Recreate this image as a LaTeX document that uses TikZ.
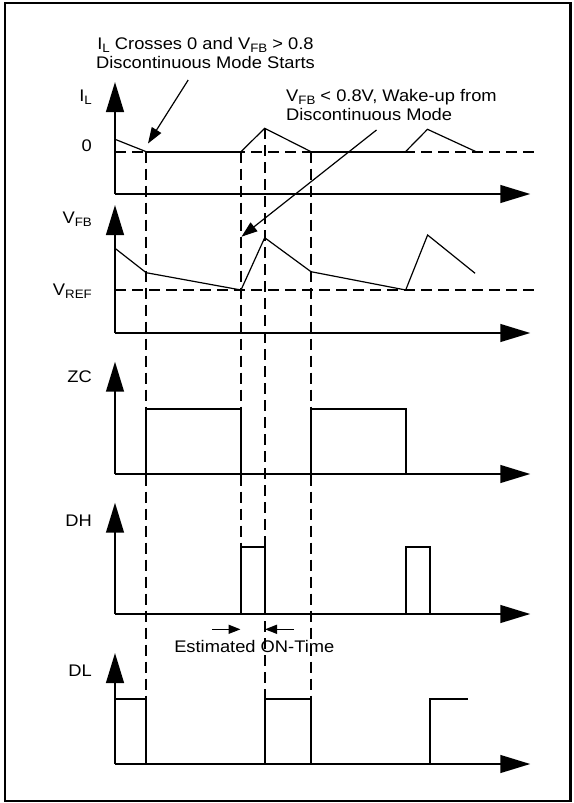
\documentclass[tikz,border=0pt]{standalone}
\usepackage{fontspec}
\setmainfont[FakeStretch=1.09]{Liberation Sans}
\usetikzlibrary{arrows.meta}
\newcommand{\sbx}[1]{\raisebox{-2.8pt}[\height][0pt]{\fontsize{12.2}{12.2}\selectfont #1}}
\begin{document}
\begin{tikzpicture}[x=1pt,y=-1pt,
  lbl/.style={font=\fontsize{16.8}{18.3}\selectfont, inner sep=0pt},
  axis/.style={line width=2.2pt, -{Triangle[length=30pt,width=17.7pt]}},
  guide/.style={line width=2pt, dash pattern=on 11pt off 6pt},
  wave/.style={line width=1.2pt, line join=miter},
  flat/.style={line width=2pt},
  pulse/.style={line width=2pt, line join=miter},
  note/.style={line width=1.2pt, -{Triangle[length=16pt,width=11pt]}},
  ontime/.style={line width=1.6pt, -{Triangle[length=12pt,width=9pt]}},
  frame/.style={line width=2.2pt}
]
\useasboundingbox (0,0) rectangle (573,803);
\draw[frame] (4.8,2.7) rectangle (570.5,801);

% ---- annotations (base anchor = baseline of last line)
\node[lbl, align=center, anchor=base] (t1) at (205.5,68.3)
  {I\sbx{L} Crosses 0 and V\sbx{FB} > 0.8\\[0.4pt]Discontinuous Mode Starts};
\node[lbl, align=left, anchor=base west] (t2) at (286,120.2)
  {V\sbx{FB} < 0.8V, Wake-up from\\[0.4pt]Discontinuous Mode};
\node[lbl, anchor=base] (t3) at (254.3,652.7) {Estimated ON-Time};

% ---- axis labels
\node[lbl, anchor=base east] (lIL) at (92,101.7) {I\sbx{L}};
\node[lbl, anchor=base east] (lzero) at (92,151.7) {0};
\node[lbl, anchor=base east] (lVFB) at (92,223.3) {V\sbx{FB}};
\node[lbl, anchor=base east] (lVREF) at (92,295.5) {V\sbx{REF}};
\node[lbl, anchor=base east] (lZC) at (92,382.7) {ZC};
\node[lbl, anchor=base east] (lDH) at (92,526.7) {DH};
\node[lbl, anchor=base east] (lDL) at (92,676.7) {DL};

% ---- axes
\foreach \nm/\yb/\yt in {a/194/82, b/333/205, c/474/361.7, d/614/502.7, e/764/653}{
  \coordinate (o\nm) at (115,\yb);
  \coordinate (v\nm) at (115,\yt);
  \coordinate (h\nm) at (530.3,\yb);
  \draw[axis] (o\nm) -- (v\nm);
  \draw[axis] (o\nm) -- (h\nm);
}

% ---- dashed reference levels
\coordinate (z0) at (115,151.7);  \coordinate (z1) at (537,151.7);
\coordinate (r0) at (115,290);    \coordinate (r1) at (537,290);
\draw[guide] (z0) -- (z1);
\draw[guide] (r0) -- (r1);

% ---- dashed vertical guides
\coordinate (g1t) at (146.2,151.7); \coordinate (g1b) at (146.2,699.3);
\coordinate (g2t) at (241,151.7);   \coordinate (g2b) at (241,546.7);
\coordinate (g3t) at (264.7,128.3); \coordinate (g3b) at (264.7,699.3);
\coordinate (g4t) at (311,151.7);   \coordinate (g4b) at (311,699.3);
\draw[guide] (g1t) -- (g1b);
\draw[guide] (g2t) -- (g2b);
\draw[guide] (g3t) -- (g3b);
\draw[guide] (g4t) -- (g4b);

% ---- I_L waveform
\draw[wave] (115,139.3) -- (146.2,151.7);
\draw[flat] (146.2,151.7) -- (241,151.7);
\draw[wave] (241,151.7) -- (264.7,128.3) -- (311,151.7);
\draw[flat] (311,151.7) -- (405.5,151.7);
\draw[wave] (405.5,151.7) -- (427.5,129.3) -- (476,151.7);

% ---- V_FB waveform
\draw[wave] (115,248.3) -- (146.2,272.7) -- (241,290) -- (264.7,237.7)
  -- (311,271.7) -- (405.7,290) -- (427.6,235) -- (475.1,273.3);

% ---- ZC
\draw[pulse] (146.2,474) -- (146.2,409) -- (240.8,409) -- (240.8,474);
\draw[pulse] (311,474) -- (311,409) -- (406.2,409) -- (406.2,474);

% ---- DH
\draw[pulse] (241,614) -- (241,546.7) -- (264.7,546.7) -- (264.7,614);
\draw[pulse] (405.7,614) -- (405.7,546.7) -- (430,546.7) -- (430,614);

% ---- DL
\draw[pulse] (115,699.3) -- (146.2,699.3) -- (146.2,764);
\draw[pulse] (264.7,764) -- (264.7,699.3) -- (311,699.3) -- (311,764);
\draw[pulse] (429.5,764) -- (429.5,699.3) -- (467.8,699.3);

% ---- annotation arrows
\coordinate (n1s) at (188.2,80);   \coordinate (n1e) at (148,143.5);
\coordinate (n2s) at (376.5,130);  \coordinate (n2e) at (241.5,236.7);
\draw[note] (n1s) -- (n1e);
\draw[note] (n2s) -- (n2e);

% ---- ON-time arrows
\coordinate (p1s) at (212.3,629.3); \coordinate (p1e) at (240.5,629.3);
\coordinate (p2s) at (294,629.3);   \coordinate (p2e) at (265,629.3);
\draw[ontime] (p1s) -- (p1e);
\draw[ontime] (p2s) -- (p2e);
\end{tikzpicture}
\end{document}
